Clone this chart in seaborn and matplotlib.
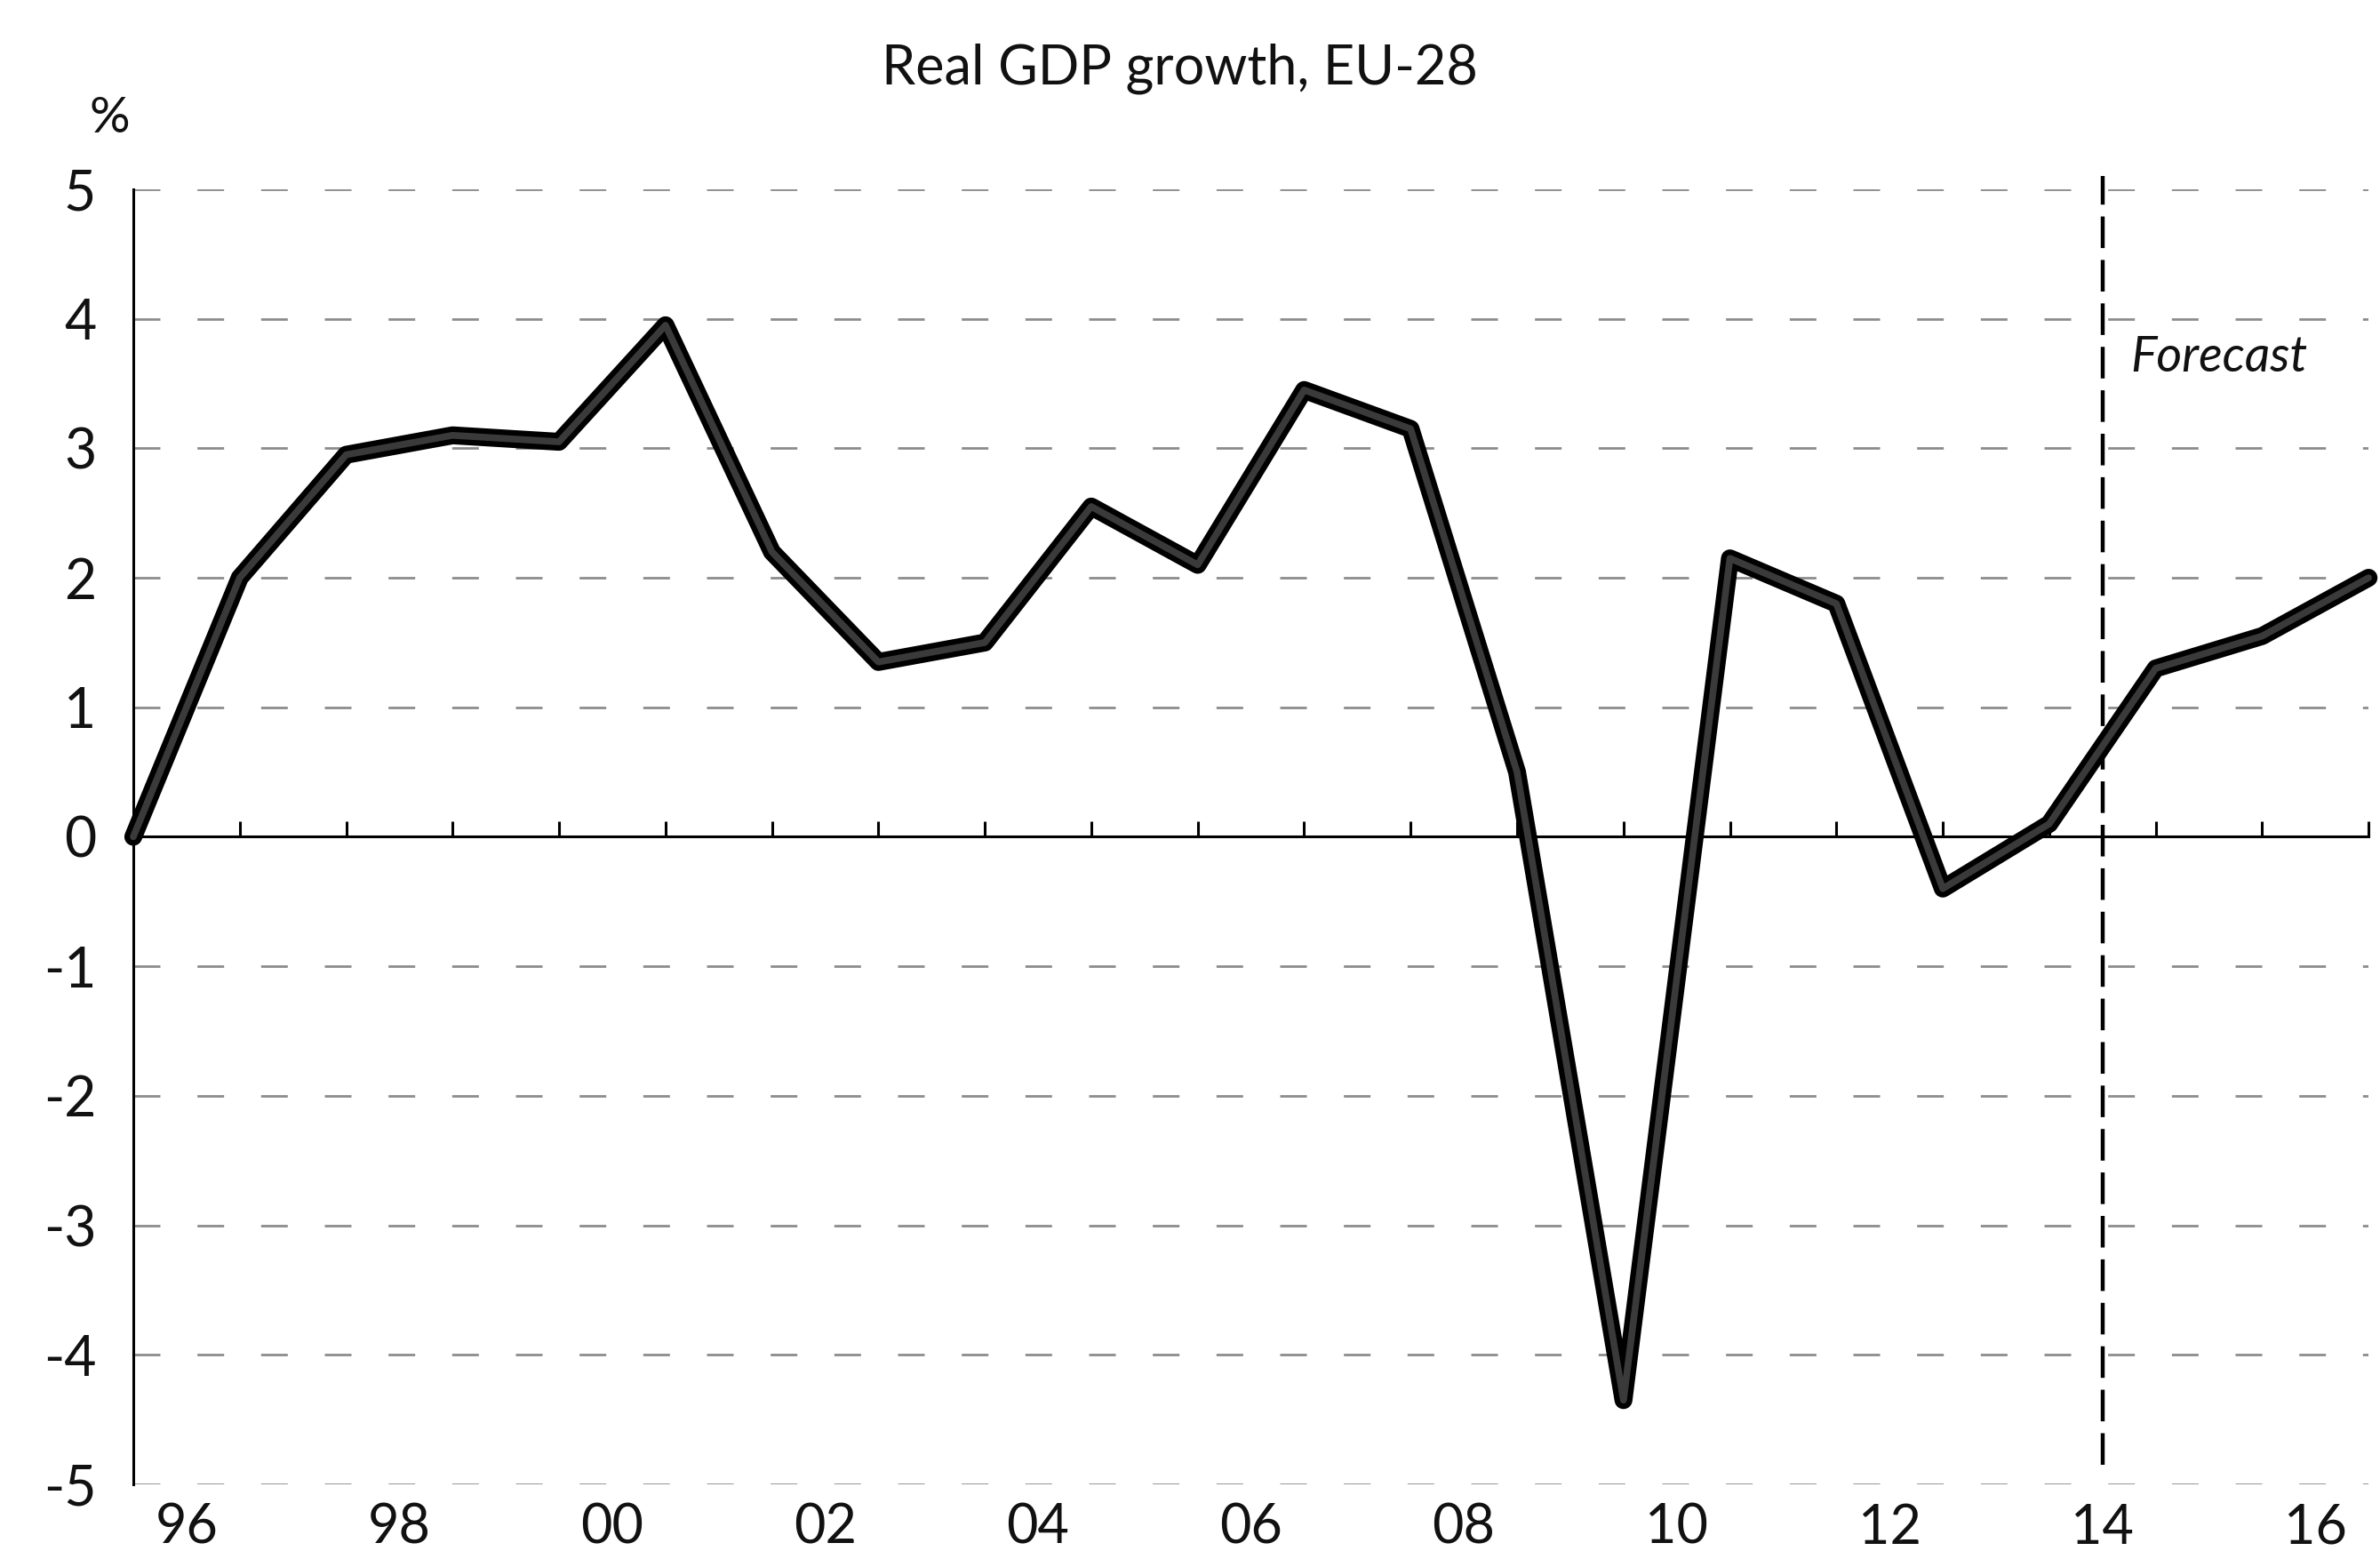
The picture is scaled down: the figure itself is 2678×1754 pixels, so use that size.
import numpy as np
import pandas as pd
import matplotlib
matplotlib.use('Agg')
import matplotlib.pyplot as plt
import seaborn as sns

# Real GDP growth, EU-28 (%), 1995-2016 (2014-2016 forecast)
years = list(range(1995, 2017))
gdp_growth = [0.0, 2.0, 2.95, 3.1, 3.05, 3.95, 2.2, 1.35, 1.5, 2.55, 2.1,
              3.45, 3.15, 0.5, -4.35, 2.15, 1.8, -0.4, 0.1, 1.3, 1.55, 2.0]

y_ticks = [5, 4, 3, 2, 1, 0, -1, -2, -3, -4, -5]
x_labels = ['96', '98', '00', '02', '04', '06', '08', '10', '12', '14', '16']
x_label_years = [1996, 1998, 2000, 2002, 2004, 2006, 2008, 2010, 2012, 2014, 2016]
forecast_start = 2013.5

df = pd.DataFrame({'year': years, 'growth': gdp_growth})

sns.set_style('white')
plt.rcParams['font.family'] = ['Lato', 'DejaVu Sans']

fig = plt.figure(figsize=(26.78, 17.54), dpi=100)
ax = fig.add_axes([0.056, 0.0479, 0.9392, 0.8307])

# dashed horizontal grid
for v in y_ticks:
    if v != 0:
        ax.axhline(v, color='#8c8c8c', lw=2, dashes=(10.8, 15), zorder=1)

# thick series: black edge with dark grey core
sns.lineplot(data=df, x='year', y='growth', ax=ax, color='black', lw=14.5,
             solid_joinstyle='round', solid_capstyle='round', clip_on=False, zorder=4)
sns.lineplot(data=df, x='year', y='growth', ax=ax, color='#3a3a3a', lw=5.5,
             solid_joinstyle='round', solid_capstyle='round', clip_on=False, zorder=5)

# forecast marker
ax.axvline(forecast_start, ymin=(-4.85 + 5) / 10, ymax=1.01, color='black',
           lw=3.2, dashes=(8, 3), clip_on=False, zorder=3)
ax.text(2013.76, 3.7, 'Forecast', fontsize=40, style='italic',
        ha='left', va='center', color='#111111')

ax.set_xlim(1995, 2016)
ax.set_ylim(-5, 5)

# zero line carries the year ticks
sns.despine(ax=ax, top=True, right=True)
ax.spines['bottom'].set_position(('data', 0))
ax.spines['bottom'].set_linewidth(2.2)
ax.spines['bottom'].set_color('black')
ax.spines['bottom'].set_zorder(2)
ax.spines['left'].set_linewidth(2.2)
ax.spines['left'].set_color('black')
ax.set_xticks(years[1:])
ax.tick_params(axis='x', direction='in', length=12, width=2.2, color='black',
               labelbottom=False, bottom=True)

ax.set_yticks(y_ticks)
ax.set_yticklabels([str(v) for v in y_ticks])
ax.tick_params(axis='y', length=0, pad=30, labelsize=45, labelcolor='#111111')

# year labels sit between categories at the bottom of the plot
secax = ax.secondary_xaxis(0.0)
secax.set_xticks([y - 0.5 for y in x_label_years])
secax.set_xticklabels(x_labels)
secax.tick_params(length=0, pad=15, labelsize=44, labelcolor='#111111')
secax.spines['bottom'].set_visible(False)

ax.set_xlabel('')
ax.set_ylabel('')

fig.text(0.0459, 0.924, '%', fontsize=41, ha='center', va='center', color='#111111')
fig.text(0.4955, 0.956, 'Real GDP growth, EU-28', fontsize=44,
         ha='center', va='center', color='#111111')

fig.savefig('out.png', dpi=100)
